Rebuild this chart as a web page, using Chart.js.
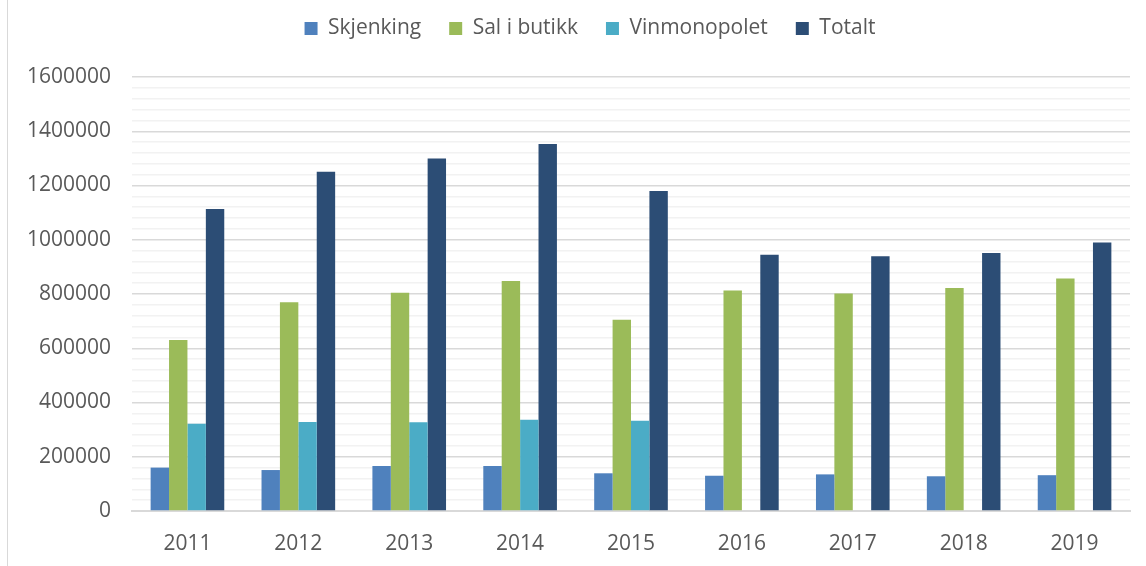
<!DOCTYPE html>
<html>
<head>
<meta charset="utf-8">
<script src="https://cdn.jsdelivr.net/npm/chart.js@4"></script>
<style>
    body { margin: 0; background: #fff; }
    #wrap { position: relative; width: 1146px; height: 566px; }
    #frame { position: absolute; left: 7px; top: 0; width: 1px; height: 566px; background: #d9d9d9; }
</style>
</head>
<body>
<div id="wrap">
    <div id="frame"></div>
    <canvas id="chart" width="1146" height="566"></canvas>
</div>
<script>
// years on the x axis
const years = ['2011', '2012', '2013', '2014', '2015', '2016', '2017', '2018', '2019'];

// series values
const skjenking = [160000, 151000, 166000, 166000, 139000, 130000, 135000, 128000, 132000];
const salIButikk = [630000, 770000, 805000, 848000, 705000, 813000, 802000, 822000, 857000];
const vinmonopolet = [322000, 328000, 327000, 336000, 333000, null, null, null, null];
const totalt = [1113000, 1251000, 1300000, 1353000, 1180000, 945000, 939000, 951000, 990000];

const yMax = 1600000;
const majorStep = 200000;
const minorStep = 40000;

const font = "'Open Sans', 'Liberation Sans', sans-serif";

// legend: extra room below it, and centred over the plot instead of the canvas
const legendSpace = {
    id: 'legendSpace',
    beforeInit(chart) {
        const legend = chart.legend;
        const fit = legend.fit;
        const draw = legend.draw;
        legend.fit = function () {
            fit.bind(legend)();
            this.height += 30;
        };
        legend.draw = function () {
            const c = chart.ctx;
            c.save();
            c.translate(25, 2);
            draw.bind(legend)();
            c.restore();
        };
    }
};

const ctx = document.getElementById('chart').getContext('2d');
const chart = new Chart(ctx, {
    type: 'bar',
    data: {
        labels: years,
        datasets: [
            { label: 'Skjenking', data: skjenking, backgroundColor: '#4f81bd' },
            { label: 'Sal i butikk', data: salIButikk, backgroundColor: '#9bbb59' },
            { label: 'Vinmonopolet', data: vinmonopolet, backgroundColor: '#4bacc6' },
            { label: 'Totalt', data: totalt, backgroundColor: '#2c4d75' }
        ]
    },
    plugins: [legendSpace],
    options: {
        responsive: false,
        animation: false,
        layout: { padding: { left: 0, right: 16, top: -12, bottom: 0 } },
        datasets: {
            bar: { categoryPercentage: 0.664, barPercentage: 1.0, borderWidth: 0 }
        },
        plugins: {
            tooltip: { enabled: false },
            legend: {
                position: 'top',
                labels: {
                    boxWidth: 13,
                    boxHeight: 13,
                    padding: 28,
                    color: '#595959',
                    font: { family: font, size: 21 }
                }
            }
        },
        scales: {
            x: {
                grid: { display: false },
                border: { display: true, color: '#d9d9d9', width: 2 },
                afterFit: (scale) => { scale.height = 55; },
                ticks: {
                    color: '#595959',
                    padding: 12,
                    font: { family: font, size: 21 }
                }
            },
            y: {
                min: 0,
                max: yMax,
                border: { display: false },
                afterFit: (scale) => { scale.width = 132; },
                grid: {
                    drawTicks: false,
                    color: (c) => (c.tick && c.tick.value % majorStep === 0) ? '#d9d9d9' : '#f2f2f2',
                    lineWidth: 1.5
                },
                ticks: {
                    stepSize: minorStep,
                    maxTicksLimit: 60,
                    autoSkip: false,
                    padding: 21,
                    color: '#595959',
                    font: { family: font, size: 21 },
                    callback: (v) => (v % majorStep === 0) ? String(v) : ''
                }
            }
        }
    }
});
</script>
</body>
</html>
